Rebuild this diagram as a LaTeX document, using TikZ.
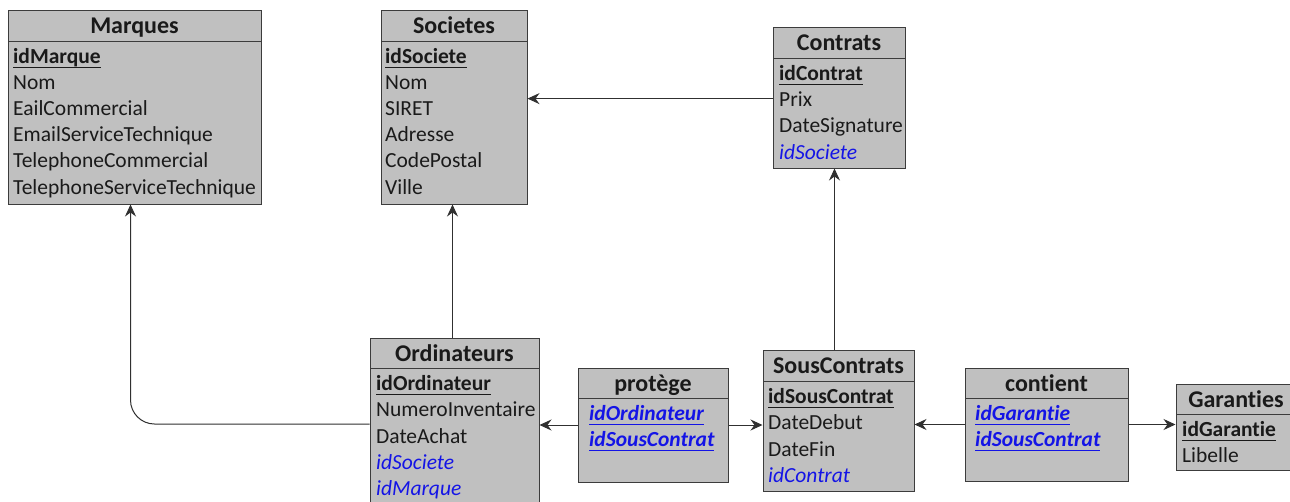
\documentclass[tikz,border=0pt]{standalone}
\usepackage{fontspec}
\setmainfont{Carlito}[Ligatures={NoCommon,NoRare,NoContextual}]
\usetikzlibrary{arrows.meta,fit,calc}
\definecolor{boxfill}{HTML}{C0C0C0}
\definecolor{boxline}{HTML}{3C3C3C}
\definecolor{txt}{HTML}{1A1A1A}
\definecolor{fkblue}{HTML}{1414E6}
\definecolor{conn}{HTML}{303030}
\newcommand\pkul[1]{{\setbox0=\hbox{#1}\rlap{\rule[-4.5pt]{\wd0}{0.9pt}}\box0}}
\tikzset{
  tbox/.style={draw=boxline, fill=boxfill, line width=1pt, inner sep=0pt},
  sepline/.style={draw=boxline, line width=1pt},
  ttl/.style={font=\fontsize{24}{28}\selectfont\bfseries, text=txt, inner sep=0pt, anchor=base},
  row/.style={font=\fontsize{21.5}{25}\selectfont, text=txt, inner sep=0pt, anchor=base west},
  pk/.style={row, font=\fontsize{21.5}{25}\selectfont\bfseries},
  fk/.style={row, text=fkblue, font=\fontsize{21.5}{25}\selectfont\itshape},
  fkpk/.style={row, text=fkblue, font=\fontsize{21.5}{25}\selectfont\bfseries\itshape},
  arr/.style={draw=conn, line width=1pt, -{Stealth[length=12pt,width=11pt,inset=4pt]}}
}
% name, x1, y1, x2, y2, separator y, title
\newcommand\enttab[7]{%
  \node[tbox, fit={(#2,#3) (#4,#5)}] (#1) {};
  \draw[sepline] (#2,#6) -- (#4,#6);
  \node[ttl] (#1-t) at ($(#2,#3)!0.5!(#4,#6) + (0,8)$) {#7};
}
\begin{document}
\begin{tikzpicture}[x=1pt,y=-1pt]
\useasboundingbox (0,0) rectangle (1290,501);
\fill[white] (0,0) rectangle (1290,501);

% Marques
\enttab{marq}{8}{10}{261}{204}{41}{Marques}
\node[pk] (m1) at (13,63) {\pkul{idMarque}};
\node[row] (m2) at (13,89) {Nom};
\node[row] (m3) at (13,115) {EailCommercial};
\node[row] (m4) at (13,141) {EmailServiceTechnique};
\node[row] (m5) at (13,167) {TelephoneCommercial};
\node[row] (m6) at (13,194) {TelephoneServiceTechnique};

% Societes
\enttab{soc}{381}{10}{527}{204}{41}{Societes}
\node[pk] (s1) at (385,63) {\pkul{idSociete}};
\node[row] (s2) at (385,89) {Nom};
\node[row] (s3) at (385,115) {SIRET};
\node[row] (s4) at (385,141) {Adresse};
\node[row] (s5) at (385,167) {CodePostal};
\node[row] (s6) at (385,194) {Ville};

% Contrats
\enttab{contr}{773}{27}{905}{168}{58}{Contrats}
\node[pk] (c1) at (779,80) {\pkul{idContrat}};
\node[row] (c2) at (779,106) {Prix};
\node[row] (c3) at (779,132) {DateSignature};
\node[fk] (c4) at (779,159) {idSociete};

% Ordinateurs
\enttab{ord}{370}{338}{539}{510}{368}{Ordinateurs}
\node[pk] (o1) at (376,390) {\pkul{idOrdinateur}};
\node[row] (o2) at (376,416) {NumeroInventaire};
\node[row] (o3) at (376,443) {DateAchat};
\node[fk] (o4) at (376,469) {idSociete};
\node[fk] (o5) at (376,495) {idMarque};

% protège
\enttab{prot}{578}{368}{728}{482}{398}{protège}
\node[fkpk] (p1) at (589,420) {\pkul{idOrdinateur}};
\node[fkpk] (p2) at (589,446) {\pkul{idSousContrat}};

% SousContrats
\enttab{sc}{763}{350}{914}{491}{381}{SousContrats}
\node[pk] (sc1) at (768,403) {\pkul{idSousContrat}};
\node[row] (sc2) at (768,429) {DateDebut};
\node[row] (sc3) at (768,456) {DateFin};
\node[fk] (sc4) at (768,482) {idContrat};

% contient
\enttab{cont}{965}{368}{1128}{481}{398}{contient}
\node[fkpk] (ct1) at (975,420) {\pkul{idGarantie}};
\node[fkpk] (ct2) at (975,446) {\pkul{idSousContrat}};

% Garanties
\enttab{gar}{1176}{384}{1296}{470}{414}{Garanties}
\node[pk] (g1) at (1182,436) {\pkul{idGarantie}};
\node[row] (g2) at (1182,462) {Libelle};

% connectors
\draw[arr] (contr.west |- c2) -- (soc.east |- c2);
\draw[arr] ([xshift=-2pt]ord.north) -- ([xshift=-2pt]ord.north |- soc.south);
\draw[arr, rounded corners=24pt] (ord.west) -| ([xshift=-4pt]marq.south);
\draw[arr] ([xshift=-4pt]sc.north) -- ([xshift=-4pt]sc.north |- contr.south);
\draw[arr] (prot.west) -- (prot.west -| ord.east);
\draw[arr] (prot.east) -- (prot.east -| sc.west);
\draw[arr] (cont.west) -- (cont.west -| sc.east);
\draw[arr] (cont.east) -- (cont.east -| gar.west);
\end{tikzpicture}
\end{document}
